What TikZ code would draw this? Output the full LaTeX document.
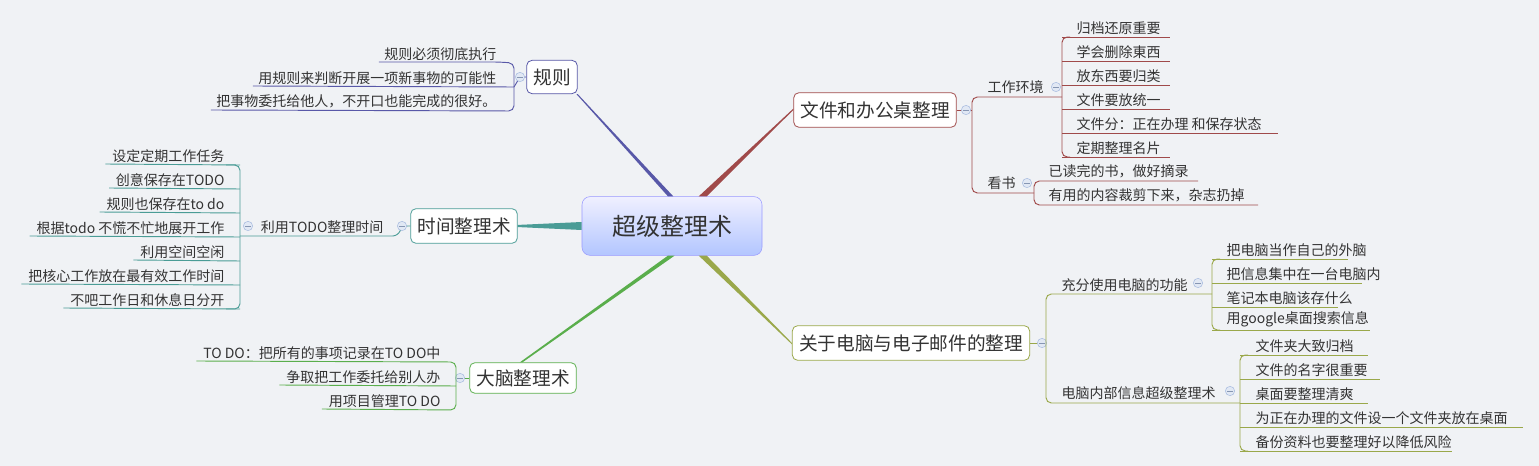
\documentclass[tikz,border=0pt]{standalone}
\usepackage{fontspec}
\setmainfont{Noto Sans CJK SC}
\newfontfamily\cjk{Noto Sans CJK SC}
\definecolor{bg}{HTML}{F0F2F5}
\definecolor{cpur}{HTML}{5858A8}
\definecolor{cteal}{HTML}{4A9C96}
\definecolor{cgreen}{HTML}{5AAE4C}
\definecolor{cred}{HTML}{A04A4A}
\definecolor{colive}{HTML}{9AA84A}
\definecolor{txt}{HTML}{333333}
\definecolor{cbl}{HTML}{A8BCE0}
\tikzset{
  leaf/.style={inner sep=1pt,font=\fontsize{10.5}{12}\selectfont,text=txt},
  sub/.style={inner sep=1pt,font=\fontsize{10.5}{12}\selectfont,text=txt},
  branch/.style={draw=#1,rounded corners=4pt,fill=white,font=\fontsize{14}{16}\selectfont,text=txt,inner xsep=5pt,minimum height=26pt,line width=0.6pt},
  col/.style={circle,draw=cbl,fill=cbl!35,minimum size=7pt,inner sep=0pt,
    path picture={\draw[cbl!80!black,line width=0.5pt] ([xshift=-2pt]path picture bounding box.center) -- ([xshift=2pt]path picture bounding box.center);}},
  ln/.style={draw=#1,line width=0.7pt,rounded corners=4pt},
}
\begin{document}
\begin{tikzpicture}[x=0.75pt,y=-0.75pt]
\fill[bg] (0,0) rectangle (1539,466);
\useasboundingbox (0,0) rectangle (1539,466);
% centre
\node[draw=blue!40,rounded corners=6pt,top color=blue!6,bottom color=cyan!25!blue!30,minimum width=135pt,minimum height=44pt,font=\fontsize{18}{20}\selectfont,text=txt] (c) at (672,226) {超级整理术};
% branches
\node[branch=cpur,minimum height=25pt] (r) at (552,77) {规则};
\node[branch=cteal] (t) at (464,226) {时间整理术};
\node[branch=cgreen,minimum height=23pt] (b) at (523,378) {大脑整理术};
\node[branch=cred] (f) at (875,110) {文件和办公桌整理};
\node[branch=colive] (p) at (911,343) {关于电脑与电子邮件的整理};
\fill[cpur] ([xshift=-3pt]c.north) -- ([xshift=1pt]c.north) -- (r.south east) -- ([xshift=-1pt]r.south east) -- cycle;
\fill[cteal] ([yshift=3pt]c.west) -- ([yshift=-3pt]c.west) -- ([yshift=-0.8pt]t.east) -- ([yshift=0.8pt]t.east) -- cycle;
\fill[cgreen] ([xshift=-3pt]c.south) -- ([xshift=2pt]c.south) -- ([xshift=40pt]b.north west) -- ([xshift=38pt]b.north west) -- cycle;
\fill[cred] ([xshift=20pt]c.north) -- ([xshift=26pt]c.north) -- (f.west) -- ([yshift=1pt]f.west) -- cycle;
\fill[colive] ([xshift=20pt]c.south) -- ([xshift=26pt]c.south) -- (p.west) -- ([yshift=-1pt]p.west) -- cycle;
% ---- 规则
\node[leaf,anchor=south east] (r1) at (498,62) {规则必须彻底执行};
\node[leaf,anchor=south east] (r2) at (498,86) {用规则来判断开展一项新事物的可能性};
\node[leaf,anchor=south east] (r3) at (498,110) {把事物委托给他人，不开口也能完成的很好。};
\draw[ln=cpur] ([xshift=-3pt]r1.south west) -- (r1.south east) -- (514,63) -- (514,111) -- ([xshift=-3pt]r3.south west);
\draw[ln=cpur] ([xshift=-3pt]r2.south west) -- (514,87);
\draw[ln=cpur] (514,87) -- (520,77) -- (r);
\node[col] (rc) at (520,77) {};
% ---- 时间
\node[sub,anchor=south east] (ts) at (385,235) {利用TODO整理时间};
\draw[ln=cteal] (240,236) -- (398,236) -- (402,226) -- (t);
\node[col] (tc) at (402,226) {};
\node[col] (tsc) at (248,226) {};
\foreach \y/\s [count=\i] in {165/设定定期工作任务,189/创意保存在TODO,213/规则也保存在to do,237/根据todo 不慌不忙地展开工作,261/利用空间空闲,285/把核心工作放在最有效工作时间,309/不吧工作日和休息日分开}{
  \node[leaf,anchor=south east] (tl\i) at (226,\y-1) {\s};
  \draw[ln=cteal] ([xshift=-4pt]tl\i.south west) -- (240,\y);
}
\draw[ln=cteal] (226,165) -- (240,165) -- (240,309) -- (226,309);
% ---- 大脑
\draw[ln=cgreen] (460,378) -- (b);
\node[col] (bc) at (460,378) {};
\node[leaf,anchor=south east] (b1) at (442,361) {TO DO：把所有的事项记录在TO DO中};
\node[leaf,anchor=south east] (b2) at (442,385) {争取把工作委托给别人办};
\node[leaf,anchor=south east] (b3) at (442,409) {用项目管理TO DO};
\draw[ln=cgreen] ([xshift=-4pt]b1.south west) -- (456,362) -- (456,410) -- ([xshift=-4pt]b3.south west);
\draw[ln=cgreen] ([xshift=-4pt]b2.south west) -- (456,386);
% ---- 文件和办公桌
\draw[ln=cred] (f) -- (972,110);
\node[col] (fc) at (966,110) {};
\node[sub,anchor=south west] (f1) at (986,95) {工作环境};
\node[col] (f1c) at (1056,87) {};
\node[sub,anchor=south west] (f2) at (986,191) {看书};
\node[col] (f2c) at (1027,183) {};
\draw[ln=cred] (1062,97) -- (972,97) -- (972,193) -- (1034,193);
\foreach \y/\s/\e [count=\i] in {37/归档还原重要/1170,61/学会删除東西/1170,85/放东西要归类/1170,109/文件要放统一/1170,133/文件分：正在办理 和保存状态/1278,157/定期整理名片/1170}{
  \node[leaf,anchor=south west] (fl\i) at (1075,\y-1) {\s};
  \draw[ln=cred] (1062,\y) -- (\e,\y);
}
\draw[ln=cred] (1070,37) -- (1062,37) -- (1062,157) -- (1070,157);
\node[leaf,anchor=south west] (fk1) at (1047,180) {已读完的书，做好摘录};
\node[leaf,anchor=south west] (fk2) at (1047,204) {有用的内容裁剪下来，杂志扔掉};
\draw[ln=cred] (1198,181) -- (1034,181) -- (1034,205) -- (1258,205);
% ---- 电脑
\draw[ln=colive] (p) -- (1046,343);
\node[col] (pc) at (1042,343) {};
\node[sub,anchor=south west] (p1) at (1060,293) {充分使用电脑的功能};
\node[col] (p1c) at (1198,283) {};
\node[sub,anchor=south west] (p2) at (1060,401) {电脑内部信息超级整理术};
\node[col] (p2c) at (1230,391) {};
\draw[ln=colive] (1212,294) -- (1046,294) -- (1046,403) -- (1240,403);
\foreach \y/\s/\e [count=\i] in {259/把电脑当作自己的外脑/1348,283/把信息集中在一台电脑内/1362,307/笔记本电脑该存什么/1338,330/用google桌面搜索信息/1370}{
  \node[leaf,anchor=south west] (pl\i) at (1225,\y-1) {\s};
  \draw[ln=colive] (1212,\y) -- (\e,\y);
}
\draw[ln=colive] (1220,259) -- (1212,259) -- (1212,330) -- (1220,330);
\foreach \y/\s/\e [count=\i] in {355/文件夹大致归档/1368,379/文件的名字很重要/1380,403/桌面要整理清爽/1368,427/为正在办理的文件设一个文件夹放在桌面/1523,451/备份资料也要整理好以降低风险/1452}{
  \node[leaf,anchor=south west] (pm\i) at (1254,\y-1) {\s};
  \draw[ln=colive] (1240,\y) -- (\e,\y);
}
\draw[ln=colive] (1248,355) -- (1240,355) -- (1240,451) -- (1248,451);
\end{tikzpicture}
\end{document}
